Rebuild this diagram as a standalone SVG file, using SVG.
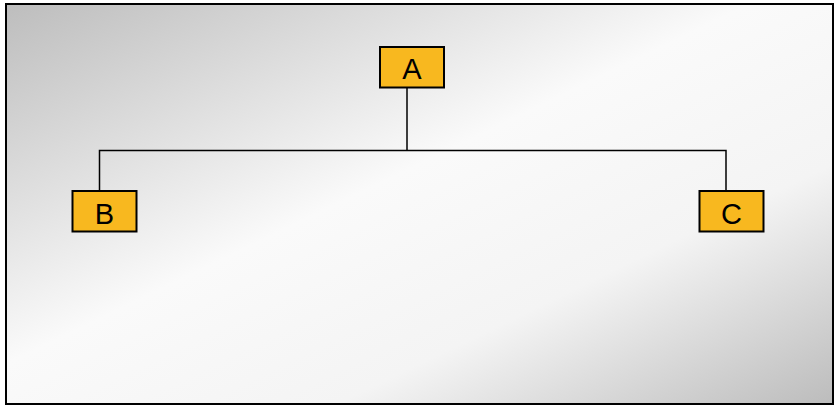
<svg xmlns="http://www.w3.org/2000/svg" width="836" height="405" viewBox="0 0 836 405">
<defs>
<linearGradient id="bg" x1="0" y1="0" x2="1" y2="1">
<stop offset="0" stop-color="#bdbdbd"/>
<stop offset="0.45" stop-color="#fafafa"/>
<stop offset="0.7" stop-color="#f4f4f4"/>
<stop offset="1" stop-color="#bcbcbc"/>
</linearGradient>
</defs>
<style>
.node rect{fill:#f8b81f;stroke:#000;stroke-width:2}
.node text{font-family:"Liberation Sans",Arial,sans-serif;font-size:29px;fill:#000;text-anchor:middle}
.conn{fill:none;stroke:#000;stroke-width:1.5}
</style>
<rect x="0" y="0" width="836" height="405" fill="#fff"/>
<rect x="6" y="4" width="827" height="400" fill="url(#bg)" stroke="#000" stroke-width="2"/>
<g id="connectors">
<path class="conn" d="M407,88 V150.5 M99.5,191 V150.5 H726 V191"/>
</g>
<g id="node-A" class="node">
<rect x="380" y="47" width="64" height="40.5"/>
<text x="412" y="78.5">A</text>
</g>
<g id="node-B" class="node">
<rect x="72.5" y="191" width="64" height="40.5"/>
<text x="104.5" y="224">B</text>
</g>
<g id="node-C" class="node">
<rect x="699.5" y="191" width="64" height="40.5"/>
<text x="731.5" y="224">C</text>
</g>
</svg>
